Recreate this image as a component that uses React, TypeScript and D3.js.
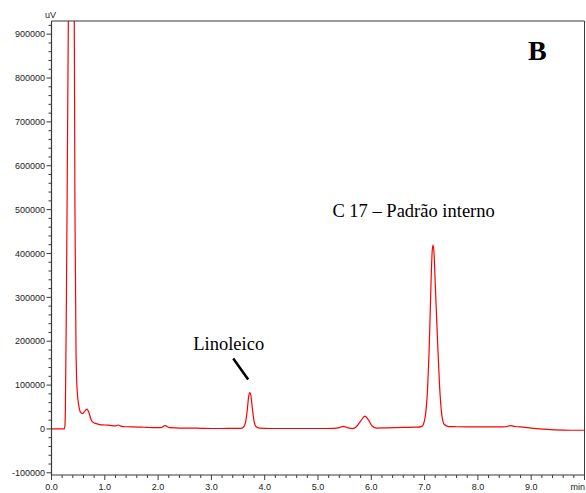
import React from "react";
import * as d3 from "d3";

// Chromatogram trace: [time (min), signal (uV)]
const traceTimes: number[] = [
  0.0, 0.24, 0.25, 0.26, 0.28, 0.3, 0.32, 0.37, 0.425, 0.44, 0.46, 0.48, 0.51, 0.55, 0.58,
  0.62, 0.665, 0.7, 0.74, 0.78, 0.84, 0.9, 1.0, 1.1, 1.2, 1.25, 1.3, 1.4, 1.55, 1.7, 1.8,
  1.9, 2.05, 2.13, 2.22, 2.4, 2.6, 2.8, 3.0, 3.2, 3.4, 3.55, 3.6, 3.64, 3.67, 3.7, 3.72,
  3.74, 3.77, 3.8, 3.84, 3.9, 4.1, 4.5, 5.0, 5.3, 5.4, 5.47, 5.55, 5.65, 5.72, 5.8, 5.88,
  5.95, 6.02, 6.1, 6.3, 6.6, 6.85, 6.95, 7.0, 7.05, 7.09, 7.12, 7.14, 7.157, 7.175, 7.2, 7.24, 7.28,
  7.32, 7.37, 7.45, 7.6, 8.0, 8.4, 8.52, 8.61, 8.7, 8.85, 9.0, 9.3, 9.6, 10.0,
];
const traceValues: number[] = [
  0, 0, 5000, 40000, 300000, 650000, 1000000, 1500000, 1000000, 500000, 180000, 90000, 55000, 37000, 35000,
  40000, 45000, 38000, 22000, 15000, 12000, 10000, 9000, 8000, 7000, 9000, 6500, 5000, 4500, 4000, 3500,
  3000, 3000, 7500, 3000, 2000, 2000, 1500, 1000, 1000, 1500, 1500, 4000, 15000, 40000, 75000, 83000,
  77000, 45000, 18000, 5000, 2000, 1000, 1000, 1000, 1500, 3000, 6000, 3000, 500, 5000, 18000, 29000,
  20000, 6000, 2000, 2500, 3500, 4000, 6000, 20000, 80000, 200000, 330000, 400000, 419000, 405000, 330000, 210000, 100000,
  35000, 10000, 5500, 5000, 4500, 4500, 5000, 7500, 5500, 4000, 2000, -1000, -2500, -3000,
];

const yMajorTicks: number[] = [-100000, 0, 100000, 200000, 300000, 400000, 500000, 600000, 700000, 800000, 900000];
const xMajorTicks: number[] = [0, 1, 2, 3, 4, 5, 6, 7, 8, 9];
const xDomain: [number, number] = [0, 10];
const yDomain: [number, number] = [-105000, 930000];

const yUnit = "uV";
const xUnit = "min";
const panelLetter = "B";
const labelLinoleico = "Linoleico";
const labelC17 = "C 17 – Padrão interno";

export default function App() {
  const W = 586;
  const H = 493;
  const left = 51.5;
  const right = 584.5;
  const top = 21;
  const bottom = 475;

  const x = d3.scaleLinear().domain(xDomain).range([left, right]);
  const y = d3.scaleLinear().domain(yDomain).range([bottom, top]);

  const data = traceTimes.map((t, i) => [t, traceValues[i]] as [number, number]);
  const line = d3
    .line<[number, number]>()
    .x((d) => x(d[0]))
    .y((d) => y(d[1]))
    .curve(d3.curveMonotoneX);

  const yMinor = d3.range(-100000, 930001, 20000).filter((v) => v % 100000 !== 0);
  const xMinor = d3.range(0, 10.001, 0.2).map((v) => Math.round(v * 10) / 10).filter((v) => Math.abs(v - Math.round(v)) > 1e-6);

  const axisColor = "#3a3a3a";
  const font = "'Liberation Sans', Arial, sans-serif";
  const serif = "'Liberation Serif', 'Times New Roman', serif";

  return (
    <svg width={W} height={H} style={{ position: "absolute", left: 0, top: 0, background: "#fff" }}>
      <defs>
        <clipPath id="plotClip">
          <rect x={left} y={top} width={right - left} height={bottom - top} />
        </clipPath>
      </defs>
      <rect x={0} y={0} width={W} height={H} fill="#fff" />

      {/* trace */}
      <path d={line(data) || ""} fill="none" stroke="#ff0000" strokeWidth={1.2} clipPath="url(#plotClip)" />

      {/* frame */}
      <line x1={left} x2={right} y1={top} y2={top} stroke={axisColor} strokeWidth={1.2} />
      <line x1={right} x2={right} y1={top} y2={bottom} stroke={axisColor} strokeWidth={1} />
      <line x1={left} x2={left} y1={top} y2={bottom} stroke={axisColor} strokeWidth={1.2} />
      <line x1={left} x2={right} y1={bottom} y2={bottom} stroke={axisColor} strokeWidth={1.2} />

      {/* y ticks */}
      {yMinor.map((v) => (
        <line key={"ym" + v} x1={left - 3} x2={left} y1={y(v)} y2={y(v)} stroke={axisColor} strokeWidth={1} />
      ))}
      {yMajorTicks.map((v) => (
        <g key={"y" + v}>
          <line x1={left - 5} x2={left} y1={y(v)} y2={y(v)} stroke={axisColor} strokeWidth={1} />
          <text x={left - 6.5} y={y(v) + 3.2} fontSize={9} fontFamily={font} textAnchor="end" fill="#222">
            {String(v)}
          </text>
        </g>
      ))}
      <text x={45} y={18} fontSize={9} fontFamily={font} fill="#222">
        {yUnit}
      </text>

      {/* x ticks */}
      {xMinor.map((v) => (
        <line key={"xm" + v} x1={x(v)} x2={x(v)} y1={bottom} y2={bottom + 3} stroke={axisColor} strokeWidth={1} />
      ))}
      {xMajorTicks.map((v) => (
        <g key={"x" + v}>
          <line x1={x(v)} x2={x(v)} y1={bottom} y2={bottom + 5} stroke={axisColor} strokeWidth={1} />
          <text x={x(v)} y={490} fontSize={9} fontFamily={font} textAnchor="middle" fill="#222">
            {d3.format(".1f")(v)}
          </text>
        </g>
      ))}
      <line x1={x(10)} x2={x(10)} y1={bottom} y2={bottom + 5} stroke={axisColor} strokeWidth={1} />
      <text x={585} y={490} fontSize={9} fontFamily={font} textAnchor="end" fill="#222">
        {xUnit}
      </text>

      {/* annotations */}
      <text x={x(8.94)} y={y(840000)} fontSize={28} fontWeight="bold" fontFamily={serif} fill="#000">
        {panelLetter}
      </text>
      <text x={x(5.27)} y={y(483800)} fontSize={18.5} fontFamily={serif} fill="#000">
        {labelC17}
      </text>
      <text x={x(2.66)} y={y(179600)} fontSize={18.5} fontFamily={serif} fill="#000">
        {labelLinoleico}
      </text>
      <line x1={x(3.41)} y1={y(160700)} x2={x(3.69)} y2={y(112700)} stroke="#000" strokeWidth={2.5} />
    </svg>
  );
}
